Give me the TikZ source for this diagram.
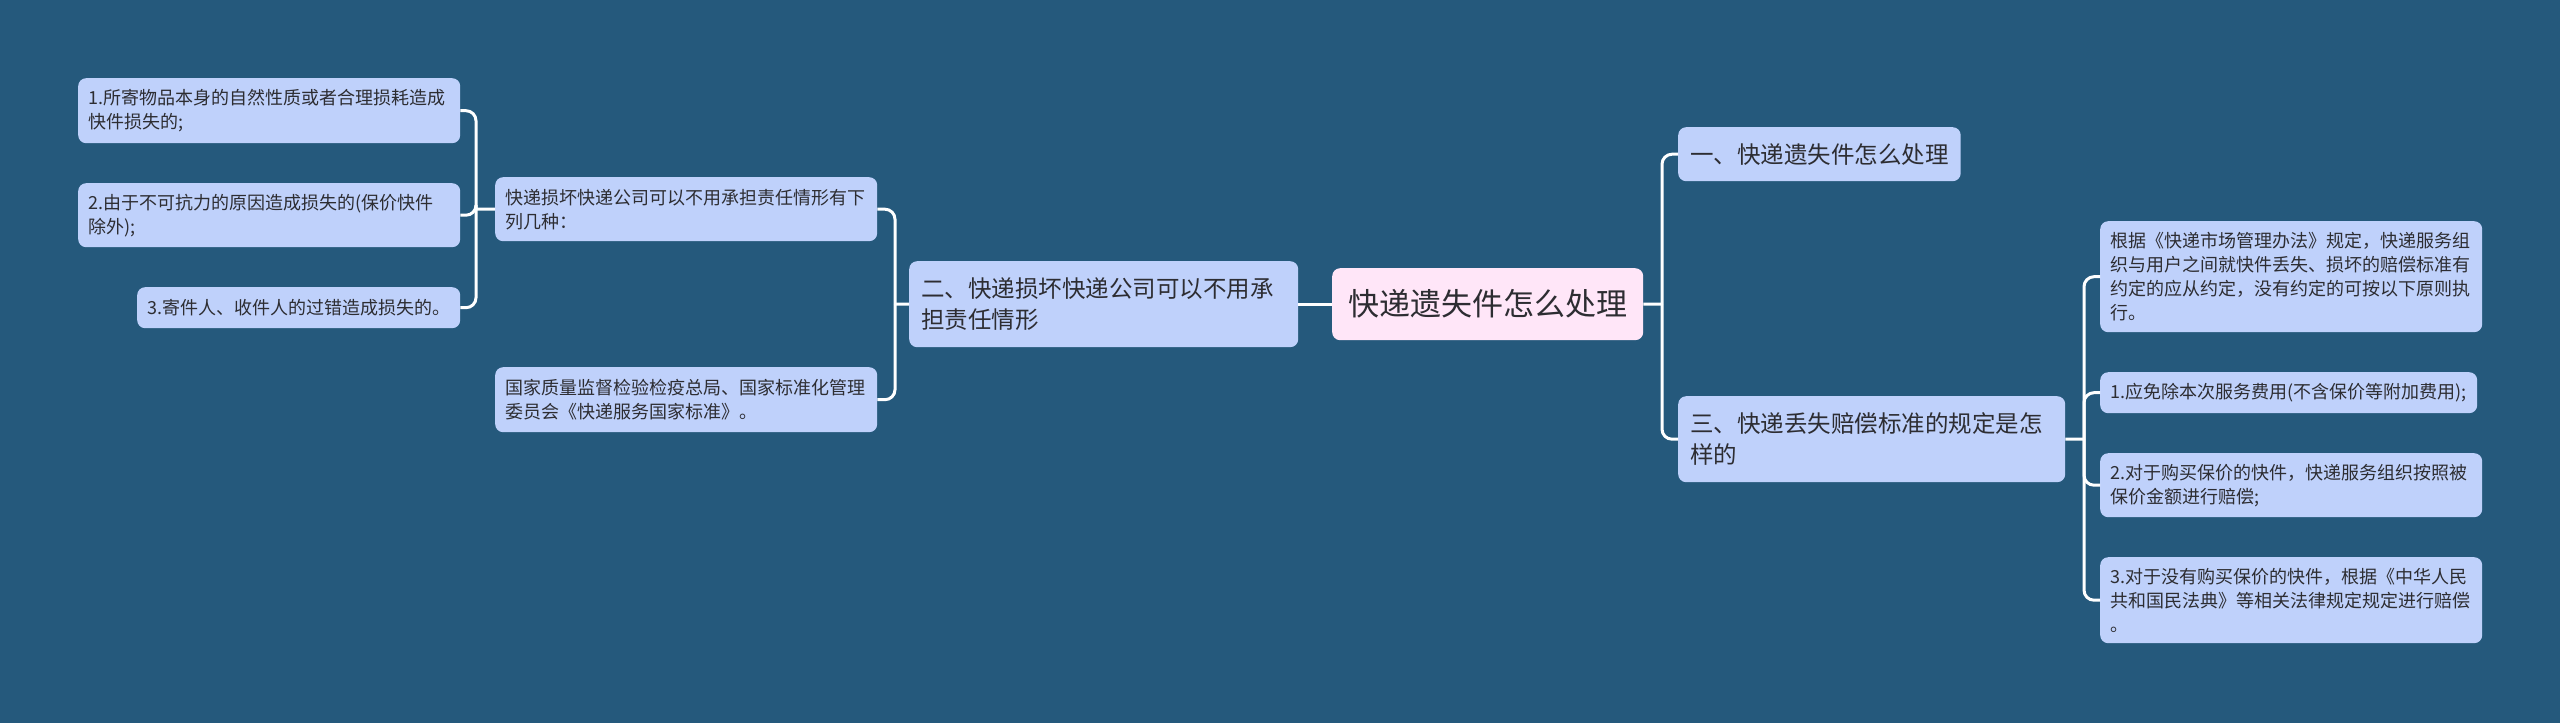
\documentclass[tikz,border=0pt]{standalone}
\usepackage{fontspec}
\setmainfont{Noto Sans CJK SC}
\definecolor{bg}{RGB}{37,89,124}
\definecolor{leaf}{RGB}{191,209,251}
\definecolor{rootc}{RGB}{255,230,248}
\definecolor{txt}{RGB}{45,45,50}
\begin{document}
\begin{tikzpicture}[x=1pt,y=-1pt,
  nbox/.style={rounded corners=8pt, fill=leaf, text=txt, inner xsep=10pt, inner ysep=0pt, align=left, anchor=north west},
  small/.style={nbox, font=\fontsize{18}{24}\selectfont},
  mid/.style={nbox, inner xsep=12pt, font=\fontsize{23.5}{31}\selectfont},
  rootbox/.style={rounded corners=8pt, fill=rootc, text=txt, inner sep=0pt, anchor=north west, font=\fontsize{31}{36}\selectfont},
  link/.style={draw=white, line width=3pt, rounded corners=10pt}]
\fill[bg] (0,0) rectangle (2560,723);
% root
\node[rootbox, minimum width=311pt, minimum height=72pt] (C) at (1332,268) {快递遗失件怎么处理};
% left branch
\node[mid, minimum width=389pt, minimum height=86pt, text width=365pt] (M2) at (909,261) {二、快递损坏快递公司可以不用承\\担责任情形};
\node[small, minimum width=382pt, minimum height=64pt, text width=362pt] (A) at (495,177) {快递损坏快递公司可以不用承担责任情形有下\\列几种：};
\node[small, minimum width=382pt, minimum height=65pt, text width=362pt] (B) at (495,367) {国家质量监督检验检疫总局、国家标准化管理\\委员会《快递服务国家标准》。};
\node[small, minimum width=382pt, minimum height=65pt, text width=362pt] (L1) at (78,78) {1.所寄物品本身的自然性质或者合理损耗造成\\快件损失的;};
\node[small, minimum width=382pt, minimum height=64pt, text width=362pt] (L2) at (78,183) {2.由于不可抗力的原因造成损失的(保价快件\\除外);};
\node[small, minimum width=323pt, minimum height=41pt, text width=303pt] (L3) at (137,287) {3.寄件人、收件人的过错造成损失的。};
% right branch
\node[mid, minimum width=280pt, minimum height=54pt, align=center] (M1) at (1678,127) {一、快递遗失件怎么处理};
\node[mid, minimum width=387pt, minimum height=86pt, text width=363pt] (M3) at (1678,396) {三、快递丢失赔偿标准的规定是怎\\样的};
\node[small, minimum width=382pt, minimum height=111pt, text width=362pt] (R0) at (2100,221) {根据《快递市场管理办法》规定，快递服务组\\织与用户之间就快件丢失、损坏的赔偿标准有\\约定的应从约定，没有约定的可按以下原则执\\行。};
\node[small, minimum width=377pt, minimum height=41pt, text width=357pt] (R1) at (2100,372) {1.应免除本次服务费用(不含保价等附加费用);};
\node[small, minimum width=382pt, minimum height=64pt, text width=362pt] (R2) at (2100,453) {2.对于购买保价的快件，快递服务组织按照被\\保价金额进行赔偿;};
\node[small, minimum width=382pt, minimum height=86pt, text width=362pt] (R3) at (2100,557) {3.对于没有购买保价的快件，根据《中华人民\\共和国民法典》等相关法律规定规定进行赔偿\\。};
% bus coordinates
\coordinate (busA) at (476,209);
\coordinate (busM2) at (895,304);
\coordinate (busC) at (1662,304);
\coordinate (busM3) at (2084,439);
% connectors
\draw[link] (L1.east) -| (busA);
\draw[link] (L2.east) -| (busA);
\draw[link] (L3.east) -| (busA);
\draw[link] (busA) -- (A.west);
\draw[link] (A.east) -| (busM2);
\draw[link] (B.east) -| (busM2);
\draw[link] (busM2) -- (M2.west);
\draw[link] (M2.east) -- (C.west);
\draw[link] (C.east) -- (busC);
\draw[link] (M1.west) -| (busC);
\draw[link] (M3.west) -| (busC);
\draw[link] (M3.east) -- (busM3);
\draw[link] (R0.west) -| (busM3);
\draw[link] (R1.west) -| (busM3);
\draw[link] (R2.west) -| (busM3);
\draw[link] (R3.west) -| (busM3);
\end{tikzpicture}
\end{document}
